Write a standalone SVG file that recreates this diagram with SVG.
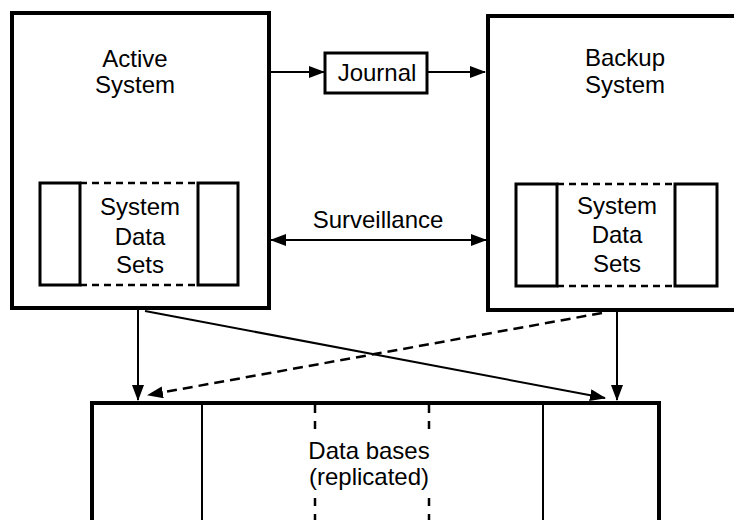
<svg xmlns="http://www.w3.org/2000/svg" width="734" height="520" viewBox="0 0 734 520">
<defs>
<marker id="ah" markerWidth="16" markerHeight="12" refX="15" refY="6" orient="auto" markerUnits="userSpaceOnUse">
<path d="M0,0 L16,6 L0,12 Z" fill="#000"/>
</marker>
<marker id="ahs" markerWidth="16" markerHeight="12" refX="15" refY="6" orient="auto-start-reverse" markerUnits="userSpaceOnUse">
<path d="M0,0 L16,6 L0,12 Z" fill="#000"/>
</marker>
</defs>
<style>
.big{fill:#fff;stroke:#000;stroke-width:4}
.inner{fill:#fff;stroke:#000;stroke-width:3}
.dash{fill:none;stroke:#000;stroke-width:2.5;stroke-dasharray:7,5}
.conn{fill:none;stroke:#000;stroke-width:2}
.cdash{fill:none;stroke:#000;stroke-width:2.5;stroke-dasharray:10,6}
.vdash{fill:none;stroke:#000;stroke-width:2.5;stroke-dasharray:8,8}
.thin{fill:none;stroke:#000;stroke-width:2}
text{font-family:"Liberation Sans",Arial,sans-serif;font-size:24px;fill:#000;text-anchor:middle}
</style>
<rect width="734" height="520" fill="#fff"/>
<g id="active">
<rect class="big" x="12" y="13" width="257" height="295"/>
<text x="135" y="67">Active</text>
<text x="135" y="93">System</text>
<line class="dash" x1="80" y1="183" x2="198" y2="183"/>
<line class="dash" x1="80" y1="285" x2="198" y2="285"/>
<rect class="inner" x="40" y="183" width="40" height="102"/>
<rect class="inner" x="198" y="183" width="40" height="102"/>
<text x="140" y="215">System</text>
<text x="140" y="245">Data</text>
<text x="140" y="273">Sets</text>
</g>
<g id="backup">
<rect class="big" x="488" y="16" width="260" height="294"/>
<text x="625" y="66">Backup</text>
<text x="625" y="93">System</text>
<line class="dash" x1="557" y1="184" x2="674" y2="184"/>
<line class="dash" x1="557" y1="286" x2="674" y2="286"/>
<rect class="inner" x="516" y="184" width="41" height="102"/>
<rect class="inner" x="675" y="184" width="42" height="102"/>
<text x="617" y="214">System</text>
<text x="617" y="243">Data</text>
<text x="617" y="272">Sets</text>
</g>
<g id="journal">
<rect class="inner" x="325" y="53" width="102" height="40"/>
<text x="377" y="81">Journal</text>
</g>
<g id="databases">
<rect class="big" x="92" y="403" width="567" height="140"/>
<line class="thin" x1="202" y1="403" x2="202" y2="520"/>
<line class="thin" x1="543" y1="403" x2="543" y2="520"/>
<line class="vdash" x1="315" y1="405" x2="315" y2="430"/>
<line class="vdash" x1="315" y1="498" x2="315" y2="520"/>
<line class="vdash" x1="429" y1="405" x2="429" y2="430"/>
<line class="vdash" x1="429" y1="498" x2="429" y2="520"/>
<text x="369" y="459">Data bases</text>
<text x="369" y="485">(replicated)</text>
</g>
<g id="connectors">
<line class="conn" x1="271" y1="72" x2="324" y2="72" marker-end="url(#ah)"/>
<line class="conn" x1="428" y1="72" x2="485" y2="72" marker-end="url(#ah)"/>
<line class="conn" x1="271" y1="240" x2="486" y2="240" marker-start="url(#ahs)" marker-end="url(#ah)"/>
<text x="378" y="228">Surveillance</text>
<line class="conn" x1="138" y1="310" x2="138" y2="400" marker-end="url(#ah)"/>
<line class="conn" x1="617" y1="312" x2="617" y2="400" marker-end="url(#ah)"/>
<line class="conn" x1="145" y1="311" x2="605" y2="398" marker-end="url(#ah)"/>
<line class="cdash" x1="602" y1="313" x2="148" y2="395" marker-end="url(#ah)"/>
</g>
</svg>
